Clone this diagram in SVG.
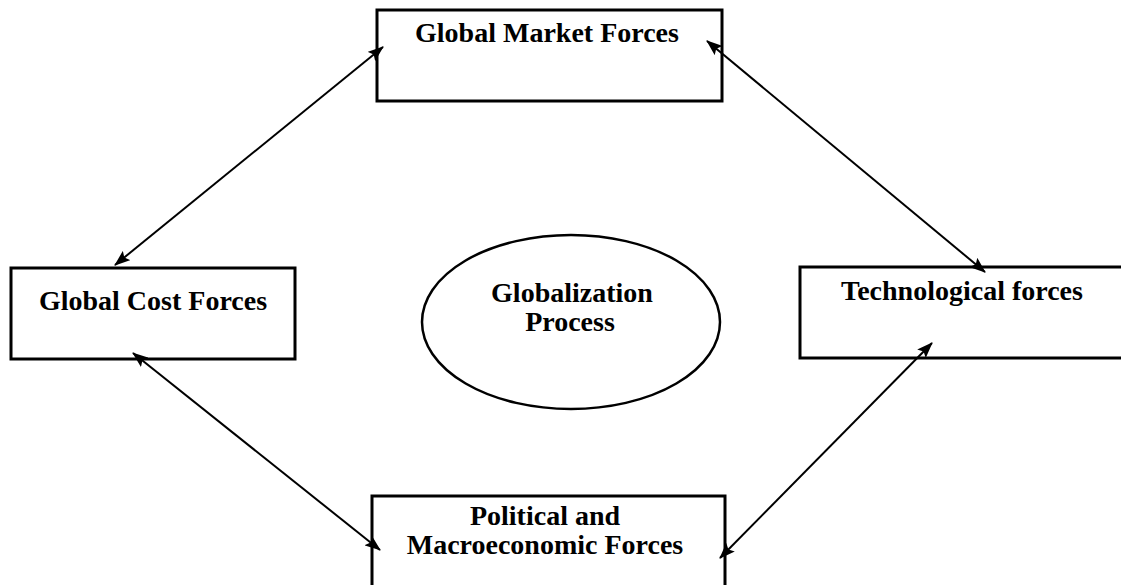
<svg xmlns="http://www.w3.org/2000/svg" width="1121" height="585" viewBox="0 0 1121 585">
  <style>
    .box { fill: #ffffff; stroke: #000000; stroke-width: 3; }
    .oval { fill: #ffffff; stroke: #000000; stroke-width: 2.5; }
    .label { font-family: "Liberation Serif", "Times New Roman", serif; font-weight: bold; font-size: 28px; fill: #000000; text-anchor: middle; }
    .link { fill: none; stroke: #000000; stroke-width: 2; marker-start: url(#head); marker-end: url(#head); }
  </style>
  <defs>
    <marker id="head" viewBox="0 0 16 12" refX="15" refY="6" markerWidth="16" markerHeight="12" markerUnits="userSpaceOnUse" orient="auto-start-reverse">
      <path d="M0,0 L16,6 L0,12 L3,6 Z" fill="#000000"/>
    </marker>
  </defs>
  <rect width="1121" height="585" fill="#ffffff"/>

  <g id="global-market-forces">
    <rect class="box" x="377" y="10" width="345" height="91"/>
    <text class="label" x="547" y="42">Global Market Forces</text>
  </g>

  <g id="global-cost-forces">
    <rect class="box" x="11" y="268" width="284" height="91"/>
    <text class="label" x="153" y="310">Global Cost Forces</text>
  </g>

  <g id="technological-forces">
    <rect class="box" x="800" y="267" width="330" height="91"/>
    <text class="label" x="962" y="300">Technological forces</text>
  </g>

  <g id="political-macroeconomic-forces">
    <rect class="box" x="372" y="496" width="353" height="100"/>
    <text class="label" x="545" y="525">Political and</text>
    <text class="label" x="545" y="554">Macroeconomic Forces</text>
  </g>

  <g id="globalization-process">
    <ellipse class="oval" cx="571" cy="322" rx="149" ry="87"/>
    <text class="label" x="572" y="302">Globalization</text>
    <text class="label" x="570" y="331">Process</text>
  </g>

  <g id="connectors">
    <line class="link" x1="115" y1="265" x2="383" y2="47"/>
    <line class="link" x1="707" y1="41" x2="985" y2="272"/>
    <line class="link" x1="133" y1="353" x2="380" y2="550"/>
    <line class="link" x1="932" y1="343" x2="720" y2="558"/>
  </g>
</svg>
